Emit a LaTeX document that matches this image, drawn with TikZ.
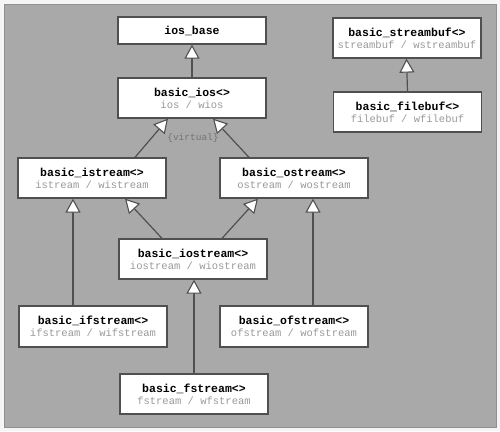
\documentclass[tikz,border=0pt]{standalone}
\usepackage{fontspec}
\setmonofont{Liberation Mono}
\usetikzlibrary{arrows.meta,calc}
\definecolor{panel}{HTML}{A9A9A9}
\definecolor{boxline}{HTML}{505050}
\definecolor{alias}{HTML}{9A9A9A}
\definecolor{virtcol}{HTML}{747474}
\tikzset{
  cls/.style={draw=boxline, line width=1.3pt, fill=white, minimum width=148pt,
    minimum height=40pt, inner sep=0pt, align=center,
    font=\ttfamily\fontsize{11.5}{12}\selectfont},
  inh/.style={draw=boxline, line width=1.2pt,
    -{Triangle[length=14pt,width=15pt,fill=white,line width=1.1pt]}},
}
\newcommand{\cl}[2]{\textbf{#1}\\{\fontsize{10.5}{12}\selectfont\color{alias}#2}}
\begin{document}
\begin{tikzpicture}[x=1pt,y=-1pt]
\useasboundingbox (0,0) rectangle (500,431);
\fill[white!96!black] (0,0) rectangle (500,431);
\filldraw[fill=panel, draw=panel!85!black, line width=0.6pt] (4,4) rectangle (496,427);

\node[cls, minimum height=27pt] (base) at (192,30.5) {\textbf{ios\_base}};
\node[cls] (ios) at (192,98) {\cl{basic\_ios<>}{ios / wios}};
\node[cls] (is) at (92,178) {\cl{basic\_istream<>}{istream / wistream}};
\node[cls] (os) at (294,178) {\cl{basic\_ostream<>}{ostream / wostream}};
\node[cls] (ios2) at (193,259) {\cl{basic\_iostream<>}{iostream / wiostream}};
\node[cls, minimum height=41pt] (ifs) at (93,326.5) {\cl{basic\_ifstream<>}{ifstream / wifstream}};
\node[cls, minimum height=41pt] (ofs) at (294,326.5) {\cl{basic\_ofstream<>}{ofstream / wofstream}};
\node[cls] (fs) at (194,394) {\cl{basic\_fstream<>}{fstream / wfstream}};
\node[cls] (sb) at (407,38) {\cl{basic\_streambuf<>}{streambuf / wstreambuf}};
\node[cls] (fb) at (407.5,112) {\cl{basic\_filebuf<>}{filebuf / wfilebuf}};

\node[font=\ttfamily\fontsize{9.5}{10}\selectfont, text=virtcol, inner sep=0pt] (virt) at (193,138) {\{virtual\}};

\draw[inh] (ios) -- (base);
\draw[inh] ([xshift=43pt]is.north) -- ([xshift=-24pt]ios.south);
\draw[inh] ([xshift=-45pt]os.north) -- ([xshift=21pt]ios.south);
\draw[inh] ([xshift=-31pt]ios2.north) -- ([xshift=33pt]is.south);
\draw[inh] ([xshift=29pt]ios2.north) -- ([xshift=-36pt]os.south);
\draw[inh] ([xshift=-20pt]ifs.north) -- ([xshift=-19pt]is.south);
\draw[inh] ([xshift=19pt]ofs.north) -- ([xshift=19pt]os.south);
\draw[inh] (fs.north) -- ([xshift=1pt]ios2.south);
\draw[inh] (fb.north) -- ([xshift=-0.5pt]sb.south);
\end{tikzpicture}
\end{document}
